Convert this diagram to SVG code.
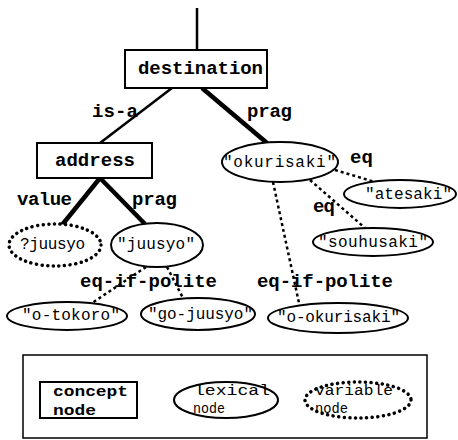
<svg xmlns="http://www.w3.org/2000/svg" width="458" height="440" viewBox="0 0 458 440">
<style>
.bg{fill:#fff}
.box{fill:#fff;stroke:#000;stroke-width:2}
.lex{fill:#fff;stroke:#000;stroke-width:2}
.var{fill:#fff;stroke:#000;stroke-width:3.5;stroke-dasharray:0.1 5.5;stroke-linecap:round}
.thick{stroke:#000;stroke-width:4.5;fill:none}
.thin{stroke:#000;stroke-width:2.5;fill:none}
.dash{stroke:#000;stroke-width:2.5;stroke-dasharray:3 3;fill:none}
.lbl{font-family:"Liberation Mono","DejaVu Sans Mono",monospace;font-weight:bold;font-size:19px;fill:#000}
.lt{font-family:"Liberation Mono","DejaVu Sans Mono",monospace;font-size:16px;fill:#000}
.lgb{font-family:"Liberation Mono","DejaVu Sans Mono",monospace;font-weight:bold;font-size:15px;fill:#000}
.lgt{font-family:"Liberation Mono","DejaVu Sans Mono",monospace;font-size:14px;fill:#000}
</style>
<rect class="bg" x="0" y="0" width="458" height="440"/>
<g id="connectors">
<line class="thin" x1="197" y1="8" x2="197" y2="50"/>
<line class="thin" x1="172" y1="88" x2="100" y2="143"/>
<line class="thick" x1="202" y1="88" x2="267" y2="143"/>
<line class="thick" x1="100" y1="178" x2="62" y2="225"/>
<line class="thick" x1="100" y1="178" x2="145" y2="224"/>
<line class="dash" x1="335" y1="170" x2="375" y2="182"/>
<line class="dash" x1="310" y1="180" x2="365" y2="228"/>
<line class="dash" x1="273" y1="182" x2="299" y2="303"/>
<line class="dash" x1="146" y1="267" x2="92" y2="303"/>
<line class="dash" x1="167" y1="267" x2="183" y2="298"/>
<text class="lbl" x="92" y="117" textLength="46">is-a</text>
<text class="lbl" x="247" y="117" textLength="45">prag</text>
<text class="lbl" x="17" y="205" textLength="55">value</text>
<text class="lbl" x="132" y="205" textLength="45">prag</text>
<text class="lbl" x="350" y="163" textLength="23">eq</text>
<text class="lbl" x="313" y="212" textLength="22">eq</text>
<text class="lbl" x="80" y="287" textLength="137">eq-if-polite</text>
<text class="lbl" x="257" y="287" textLength="136">eq-if-polite</text>
</g>
<g id="destination">
<rect class="box" x="125" y="50" width="142" height="38"/>
<text class="lbl" x="138" y="74" textLength="125">destination</text>
</g>
<g id="address">
<rect class="box" x="37" y="143" width="115" height="35"/>
<text class="lbl" x="55" y="166" textLength="80">address</text>
</g>
<g id="okurisaki">
<ellipse class="lex" cx="280" cy="162" rx="58" ry="20"/>
<text class="lt" x="223" y="167" textLength="113">"okurisaki"</text>
</g>
<g id="atesaki">
<ellipse class="lex" cx="400" cy="194" rx="56" ry="14"/>
<text class="lt" x="365" y="199" textLength="87">"atesaki"</text>
</g>
<g id="souhusaki">
<ellipse class="lex" cx="373" cy="242" rx="60" ry="14"/>
<text class="lt" x="318" y="247" textLength="110">"souhusaki"</text>
</g>
<g id="qjuusyo">
<ellipse class="var" cx="55" cy="245" rx="46" ry="21"/>
<text class="lt" x="20" y="249" textLength="65">?juusyo</text>
</g>
<g id="juusyo">
<ellipse class="lex" cx="157" cy="245" rx="46" ry="22"/>
<text class="lt" x="117" y="249" textLength="78">"juusyo"</text>
</g>
<g id="o-tokoro">
<ellipse class="lex" cx="67" cy="316" rx="60" ry="14"/>
<text class="lt" x="22" y="320" textLength="98">"o-tokoro"</text>
</g>
<g id="go-juusyo">
<ellipse class="lex" cx="198" cy="314" rx="57" ry="16"/>
<text class="lt" x="148" y="319" textLength="105">"go-juusyo"</text>
</g>
<g id="o-okurisaki">
<ellipse class="lex" cx="338" cy="318" rx="70" ry="15"/>
<text class="lt" x="277" y="322" textLength="123">"o-okurisaki"</text>
</g>
<g id="legend">
<rect fill="none" stroke="#000" stroke-width="1.5" x="23" y="355" width="404" height="83"/>
<rect class="box" x="40" y="382" width="97" height="36"/>
<text class="lgb" x="53" y="396" textLength="75" lengthAdjust="spacingAndGlyphs">concept</text>
<text class="lgb" x="53" y="415" textLength="43" lengthAdjust="spacingAndGlyphs">node</text>
<ellipse class="lex" cx="226" cy="400" rx="52" ry="18"/>
<text class="lgt" x="194" y="395" textLength="76" lengthAdjust="spacingAndGlyphs">lexical</text>
<text class="lgt" x="193" y="413" textLength="32" lengthAdjust="spacingAndGlyphs">node</text>
<ellipse class="var" cx="358" cy="400" rx="53" ry="18"/>
<text class="lgt" x="315" y="395" textLength="78" lengthAdjust="spacingAndGlyphs">variable</text>
<text class="lgt" x="315" y="413" textLength="33" lengthAdjust="spacingAndGlyphs">node</text>
</g>
</svg>
